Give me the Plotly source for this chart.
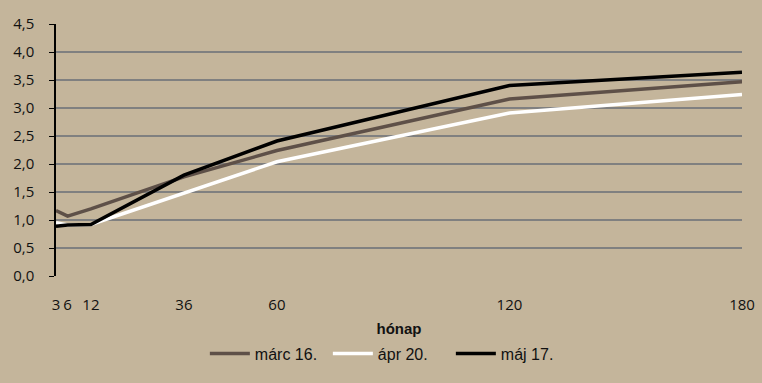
import plotly.graph_objects as go

months = [3, 6, 12, 36, 60, 120, 180]
marc16 = [1.17, 1.07, 1.20, 1.77, 2.24, 3.16, 3.47]
apr20 = [0.95, 0.91, 0.92, 1.48, 2.04, 2.91, 3.24]
maj17 = [0.89, 0.91, 0.92, 1.80, 2.41, 3.40, 3.64]
names = ["márc 16.", "ápr 20.", "máj 17."]
colors = ["#5E5048", "#FFFFFF", "#000000"]
y_ticks = [0, 0.5, 1, 1.5, 2, 2.5, 3, 3.5, 4, 4.5]
y_labels = [f"{v:.1f}".replace(".", ",") for v in y_ticks]

bg = "#C4B59B"
fig = go.Figure()
for name, vals, col in zip(names, [marc16, apr20, maj17], colors):
    fig.add_trace(go.Scatter(x=months, y=vals, mode="lines", name=name,
                             line=dict(color=col, width=3.5)))

fig.update_layout(
    width=762, height=383,
    paper_bgcolor=bg, plot_bgcolor=bg,
    margin=dict(l=56, r=20, t=24, b=102),
    font=dict(family="Open Sans", size=15, color="#111111"),
    showlegend=True,
    legend=dict(orientation="h", x=0.217, xanchor="left", y=-0.24, yanchor="top",
                font=dict(family="Liberation Sans", size=16, color="#111111"),
                bgcolor="rgba(0,0,0,0)", itemwidth=40, entrywidth=68,
                tracegroupgap=0),
    xaxis=dict(range=[3, 180], tickvals=months, ticktext=[str(m) for m in months],
               showgrid=False, zeroline=False, showline=False, ticks="",
               ticklabelstandoff=18, automargin=False,
               title=dict(text="<b>hónap</b>", font=dict(family="Liberation Sans", size=15),
                          standoff=10)),
    yaxis=dict(range=[0, 4.5], tickvals=y_ticks, ticktext=y_labels,
               showgrid=True, gridcolor="#808080", gridwidth=2, automargin=False,
               zeroline=False, showline=True, linecolor="#000000", linewidth=1.5,
               ticks="outside", ticklen=5, tickcolor="#000000", ticklabelstandoff=12),
)
fig.write_html("out.html", config={"displayModeBar": False},
               post_script="document.body.style.margin='0';document.body.style.background='" + bg + "';")
